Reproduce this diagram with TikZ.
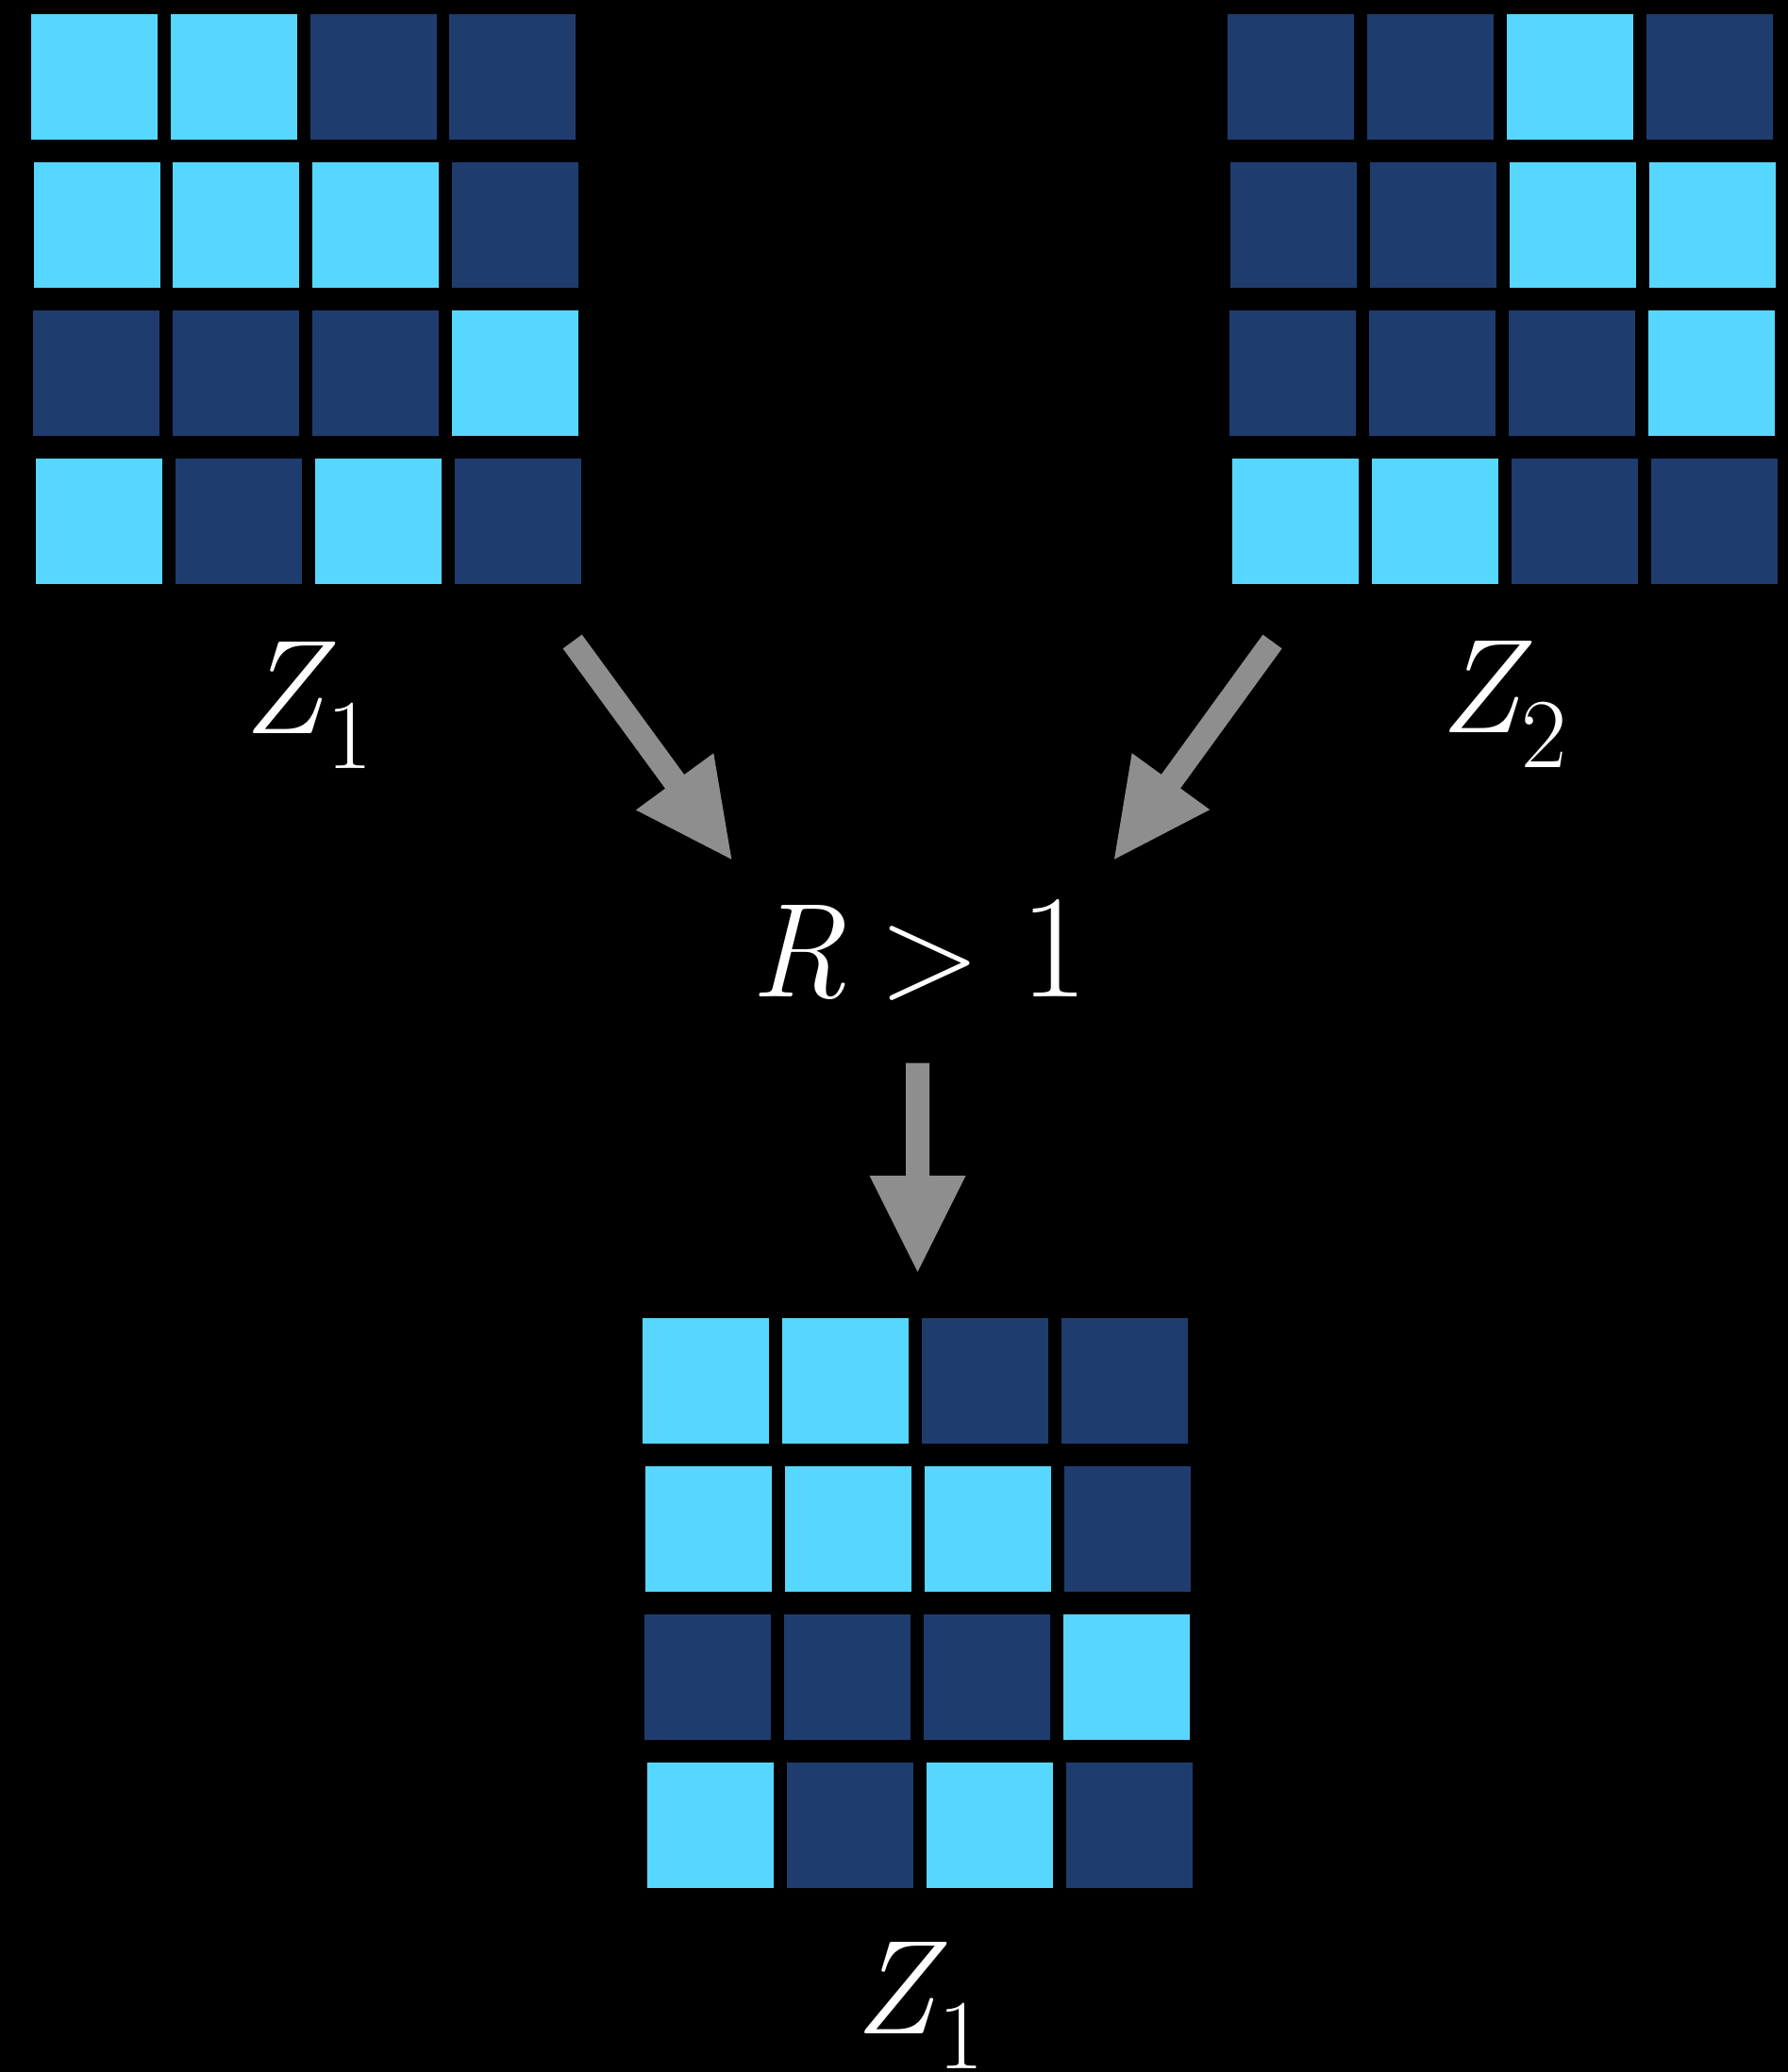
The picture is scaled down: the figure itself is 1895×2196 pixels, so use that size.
\documentclass[tikz,border=0pt]{standalone}
\usepackage{fontspec}
\usetikzlibrary{calc}
\definecolor{cellL}{RGB}{87,215,255}
\definecolor{cellD}{RGB}{31,60,111}
\definecolor{arrowgray}{RGB}{142,142,142}
\tikzset{
  lbl/.style={inner sep=0pt, outer sep=0pt, text=white, anchor=base west,
              font=\fontsize{142}{150}\selectfont},
  arrowfill/.style={fill=arrowgray},
}
\newcommand\itv[1]{{\itshape\addfontfeatures{FakeBold=1.5}#1}}
\newcommand\subtxt[1]{\raisebox{-37pt}{\fontsize{105}{110}\selectfont\addfontfeatures{FakeBold=1.2}#1}}
\newcommand\blockarrow[2]{%
  \path ($(#2)!102pt!(#1)$) coordinate (hb);
  \fill[arrowfill] ($(#1)!12.5pt!-90:(#2)$) -- ($(hb)!12.5pt!-90:(#2)$)
    -- ($(hb)!51pt!-90:(#2)$) -- (#2) -- ($(hb)!51pt!90:(#2)$)
    -- ($(hb)!12.5pt!90:(#2)$) -- ($(#1)!12.5pt!90:(#2)$) -- cycle;}
\begin{document}
\begin{tikzpicture}[x=1pt,y=-1pt]
\useasboundingbox (0,0) rectangle (1895,2196);
\fill[black] (0,0) rectangle (1895,2196);

% Grid Z1 (top left)
\foreach \xa/\ya/\xb/\yb/\c in {
  33/15/167/148/cellL, 181/15/315/148/cellL, 329/15/463/148/cellD, 476/15/610/148/cellD,
  36/172/170/304.5/cellL, 183/172/317/304.5/cellL, 331/172/465/304.5/cellL, 479/172/613/304.5/cellD,
  35/329/169/462/cellD, 183/329/317/462/cellD, 331/329/465/462/cellD, 479/329/613/462/cellL,
  38/486/172/619/cellL, 186/486/320/619/cellD, 334/486/468/619/cellL, 482/486/616/619/cellD}
  \fill[\c] (\xa,\ya) rectangle (\xb,\yb);

% Grid Z2 (top right)
\foreach \xa/\ya/\xb/\yb/\c in {
  1301/15/1435/148/cellD, 1449/15/1583/148/cellD, 1597/15/1731/148/cellL, 1745/15/1879/148/cellD,
  1304/172/1438/304.5/cellD, 1452/172/1586/304.5/cellD, 1600/172/1734/304.5/cellL, 1748/172/1882/304.5/cellL,
  1303/329/1437/462/cellD, 1451/329/1585/462/cellD, 1599/329/1733/462/cellD, 1747/329/1881/462/cellL,
  1306/486/1440/619/cellL, 1454/486/1588/619/cellL, 1602/486/1736/619/cellD, 1750/486/1884/619/cellD}
  \fill[\c] (\xa,\ya) rectangle (\xb,\yb);

% Grid result (bottom)
\foreach \xa/\ya/\xb/\yb/\c in {
  681/1397/815/1529.5/cellL, 829/1397/963/1529.5/cellL, 977/1397/1111/1529.5/cellD, 1125/1397/1259/1529.5/cellD,
  684/1554/818/1686.5/cellL, 832/1554/966/1686.5/cellL, 980/1554/1114/1686.5/cellL, 1128/1554/1262/1686.5/cellD,
  683/1711/817/1844/cellD, 831/1711/965/1844/cellD, 979/1711/1113/1844/cellD, 1127/1711/1261/1844/cellL,
  686/1868/820/2000.5/cellL, 834/1868/968/2000.5/cellD, 982/1868/1116/2000.5/cellL, 1130/1868/1264/2000.5/cellD}
  \fill[\c] (\xa,\ya) rectangle (\xb,\yb);

% Labels
\node[lbl] (z1) at (257.5,777) {\itv{Z}\kern4pt\subtxt{1}};
\node[lbl] (z2) at (1525,776) {\itv{Z}\kern2pt\subtxt{2}};
\node[lbl] (cond) at (776,1056) {\makebox[140pt][c]{\itv{R}}\makebox[140pt][c]{\addfontfeatures{FakeBold=1.2}>}\makebox[123.2pt][c]{\fontsize{156}{160}\selectfont\addfontfeatures{FakeBold=1.2}1}};
\node[lbl] (z1res) at (905,2155) {\itv{Z}\kern4pt\subtxt{1}};

% Arrows
\coordinate (a1s) at (606.7,680);
\coordinate (a1e) at (775.3,910.7);
\coordinate (a2s) at (1348.5,680);
\coordinate (a2e) at (1181,910.7);
\coordinate (a3s) at (972.5,1126.5);
\coordinate (a3e) at (972.5,1348);
\blockarrow{a1s}{a1e}
\blockarrow{a2s}{a2e}
\blockarrow{a3s}{a3e}
\end{tikzpicture}
\end{document}
